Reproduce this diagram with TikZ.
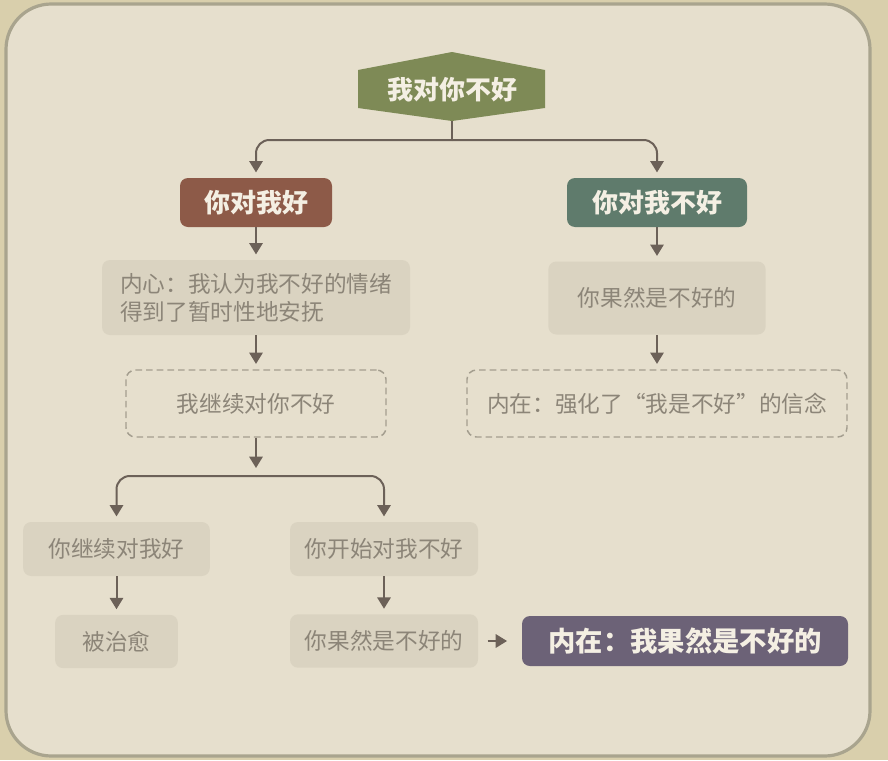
\documentclass[tikz,border=0pt]{standalone}
\usepackage{fontspec}
\setmainfont{Noto Sans CJK SC}
\usetikzlibrary{arrows.meta}

\definecolor{outerbg}{HTML}{D9CFAC}
\definecolor{innerbg}{HTML}{E6DFCD}
\definecolor{framecol}{HTML}{A9A48E}
\definecolor{boxfill}{HTML}{DAD3C1}
\definecolor{graytext}{HTML}{8C8578}
\definecolor{dashgray}{HTML}{A49E8F}
\definecolor{arrowcol}{HTML}{6C6158}
\definecolor{olivebox}{HTML}{7E8A56}
\definecolor{brownbox}{HTML}{8D5A48}
\definecolor{tealbox}{HTML}{5F7B6C}
\definecolor{purplebox}{HTML}{6C6277}
\definecolor{paletext}{HTML}{F4EFE3}

\tikzset{
  lightbox/.style={fill=boxfill, rounded corners=6pt, text=graytext, inner sep=0pt,
    font=\fontsize{17}{21}\selectfont},
  dashbox/.style={draw=dashgray, line width=1.1pt, dash pattern=on 5pt off 3pt,
    rounded corners=7pt, text=graytext, inner sep=0pt, font=\fontsize{17}{21}\selectfont},
  darkbox/.style={rounded corners=6pt, text=paletext, inner sep=0pt,
    font=\fontsize{19.5}{23}\selectfont\bfseries},
  flowline/.style={draw=arrowcol, line width=1.5pt},
  flow/.style={flowline, ->, shorten >=4pt},
}

\begin{document}
\begin{tikzpicture}[x=0.75pt, y=-0.75pt, >={Triangle[width=10pt,length=8.5pt]}]
  % background and frame
  \fill[outerbg] (0,0) rectangle (888,760);
  \draw[framecol, line width=2.4pt, fill=innerbg, rounded corners=34pt] (6,4) rectangle (870,756);

  % top shape
  \fill[olivebox] (358,70) -- (452,52) -- (545,70) -- (545,108) -- (452,121) -- (358,108) -- cycle;
  \node[darkbox, minimum width=140pt, minimum height=46.5pt] (top) at (452,90) {我对你不好};

  % second level
  \node[darkbox, fill=brownbox, minimum width=114pt, minimum height=36.75pt] (good) at (256,202.5) {你对我好};
  \node[darkbox, fill=tealbox, minimum width=135pt, minimum height=36.75pt] (bad) at (657,202.5) {你对我不好};

  % left column
  \node[lightbox, align=left, minimum width=231pt, minimum height=56.25pt] (inner) at (256,297.5)
    {内心：我认为我不好的情绪\\得到了暂时性地安抚};
  \node[dashbox, minimum width=195pt, minimum height=50.25pt] (cont) at (256,403.5) {我继续对你不好};
  \node[lightbox, minimum width=140pt, minimum height=40.5pt] (keepgood) at (116.5,549) {你继续对我好};
  \node[lightbox, minimum width=92pt, minimum height=40pt] (healed) at (116.5,641.5) {被治愈};
  \node[lightbox, minimum width=141pt, minimum height=40.5pt] (startbad) at (384,549) {你开始对我不好};
  \node[lightbox, minimum width=141pt, minimum height=40pt] (sure) at (384,641) {你果然是不好的};
  \node[darkbox, fill=purplebox, minimum width=244.5pt, minimum height=37.5pt,
    font=\fontsize{20.5}{24}\selectfont\bfseries] (final) at (685,641) {内在：我果然是不好的};

  % right column
  \node[lightbox, minimum width=163pt, minimum height=54.75pt] (surebad) at (657,298) {你果然是不好的};
  \node[dashbox, minimum width=285pt, minimum height=50.25pt] (belief) at (657,403.5) {内在：强化了“我是不好”的信念};

  % connectors
  \coordinate (split1) at (452,140);
  \coordinate (split2) at (256,476);
  \draw[flowline] (top) -- (split1);
  \draw[flow, rounded corners=10pt] (split1) -| (good);
  \draw[flow, rounded corners=10pt] (split1) -| (bad);
  \draw[flow] (good) -- (inner);
  \draw[flow] (inner) -- (cont);
  \draw[flow, shorten >=6pt] (cont) -- (split2);
  \draw[flow, rounded corners=10pt] (split2) -| (keepgood);
  \draw[flow, rounded corners=10pt] (split2) -| (startbad);
  \draw[flow] (keepgood) -- (healed);
  \draw[flow] (startbad) -- (sure);
  \draw[flow, shorten <=7pt, shorten >=11pt] (sure) -- (final);
  \draw[flow] (bad) -- (surebad);
  \draw[flow] (surebad) -- (belief);
\end{tikzpicture}
\end{document}
